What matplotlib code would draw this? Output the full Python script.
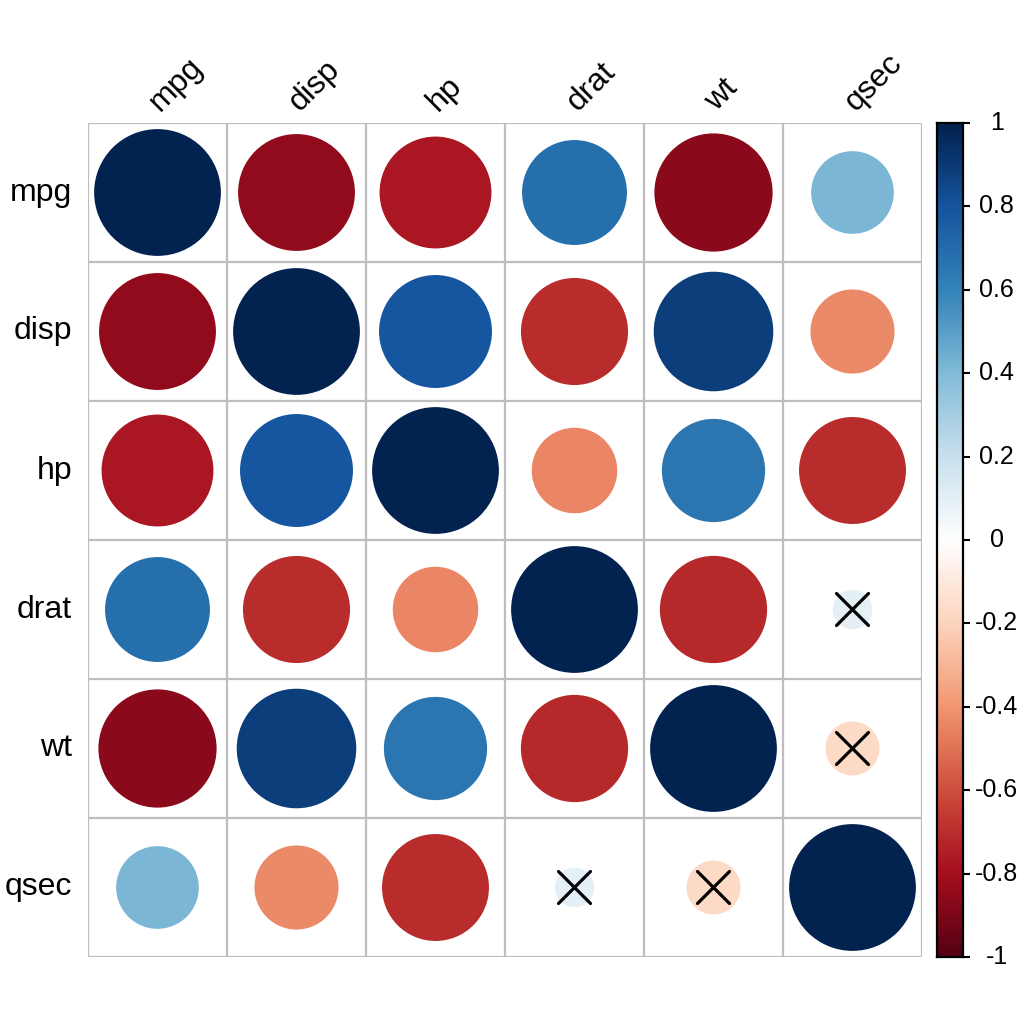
import numpy as np
import matplotlib
matplotlib.use('Agg')
import matplotlib.pyplot as plt
from matplotlib.colors import LinearSegmentedColormap, Normalize, to_rgb
from matplotlib.patches import Circle

plt.rcParams['font.family'] = ['Liberation Sans', 'DejaVu Sans']

# mtcars correlations
variables = ['mpg', 'disp', 'hp', 'drat', 'wt', 'qsec']
corr = np.array([
    [1.000, -0.848, -0.776, 0.681, -0.868, 0.419],
    [-0.848, 1.000, 0.791, -0.710, 0.888, -0.434],
    [-0.776, 0.791, 1.000, -0.449, 0.659, -0.708],
    [0.681, -0.710, -0.449, 1.000, -0.712, 0.091],
    [-0.868, 0.888, 0.659, -0.712, 1.000, -0.175],
    [0.419, -0.434, -0.708, 0.091, -0.175, 1.000],
])
# pairs that are not significant (crossed out)
insignificant = [('drat', 'qsec'), ('wt', 'qsec')]
cbar_ticks = [-1, -0.8, -0.6, -0.4, -0.2, 0, 0.2, 0.4, 0.6, 0.8, 1]

palette = ["#67001F", "#B2182B", "#D6604D", "#F4A582", "#FDDBC7", "#FFFFFF",
           "#D1E5F0", "#92C5DE", "#4393C3", "#2166AC", "#053061"]
# reference rendering is a touch darker than the raw palette
palette_rgb = [tuple(np.array(to_rgb(c)) ** 1.2) for c in palette]
cmap = LinearSegmentedColormap.from_list('rdbu', palette_rgb, N=200)
norm = Normalize(-1, 1)

W = 1036
fig = plt.figure(figsize=(10.36, 10.36), dpi=100)


def px(x0, y0, x1, y1):
    # pixel box -> figure fraction rect
    return [x0 / W, (W - y1) / W, (x1 - x0) / W, (y1 - y0) / W]


ax = fig.add_axes(px(88, 123, 922, 957))
n = len(variables)
ax.set_xlim(0, n)
ax.set_ylim(n, 0)
ax.set_axis_off()

for i in range(n + 1):
    ax.plot([i, i], [0, n], color='#BEBEBE', lw=1.6, zorder=1, solid_capstyle='projecting')
    ax.plot([0, n], [i, i], color='#BEBEBE', lw=1.6, zorder=1, solid_capstyle='projecting')

for i in range(n):
    for j in range(n):
        r = corr[i, j]
        c = cmap(norm(r))
        ax.add_patch(Circle((j + 0.5, i + 0.5), 0.45 * np.sqrt(abs(r)),
                            facecolor=c, edgecolor=c, lw=1.2, zorder=2))

for a, b in insignificant:
    for i, j in [(variables.index(a), variables.index(b)),
                 (variables.index(b), variables.index(a))]:
        d = 0.115
        cx, cy = j + 0.5, i + 0.5
        ax.plot([cx - d, cx + d], [cy - d, cy + d], color='black', lw=2.3,
                solid_capstyle='round', zorder=3)
        ax.plot([cx - d, cx + d], [cy + d, cy - d], color='black', lw=2.3,
                solid_capstyle='round', zorder=3)

for k, name in enumerate(variables):
    ax.text(-0.115, k + 0.5, name, ha='right', va='center', fontsize=23, clip_on=False)
    ax.text(k + 0.52, -0.08, name, ha='left', va='baseline', rotation=45,
            rotation_mode='anchor', fontsize=23, clip_on=False)

# colour legend
cax = fig.add_axes(px(937, 123, 963, 957))
grad = np.linspace(-1, 1, 200).reshape(-1, 1)
cax.imshow(grad, cmap=cmap, norm=norm, aspect='auto', origin='lower',
           extent=[0, 1, -1, 1])
cax.set_xlim(0, 1)
cax.set_ylim(-1, 1)
cax.set_xticks([])
cax.yaxis.tick_right()
cax.set_yticks(cbar_ticks)
cax.set_yticklabels([])
cax.tick_params(axis='y', length=5, width=1.5, color='black', direction='out')
for s in cax.spines.values():
    s.set_linewidth(1.6)
for t in cbar_ticks:
    lab = '%g' % t
    cax.text(2.3, t, lab, ha='center', va='center', fontsize=18,
             transform=cax.get_yaxis_transform(), clip_on=False)

fig.savefig('out.png', dpi=100, facecolor='white')
